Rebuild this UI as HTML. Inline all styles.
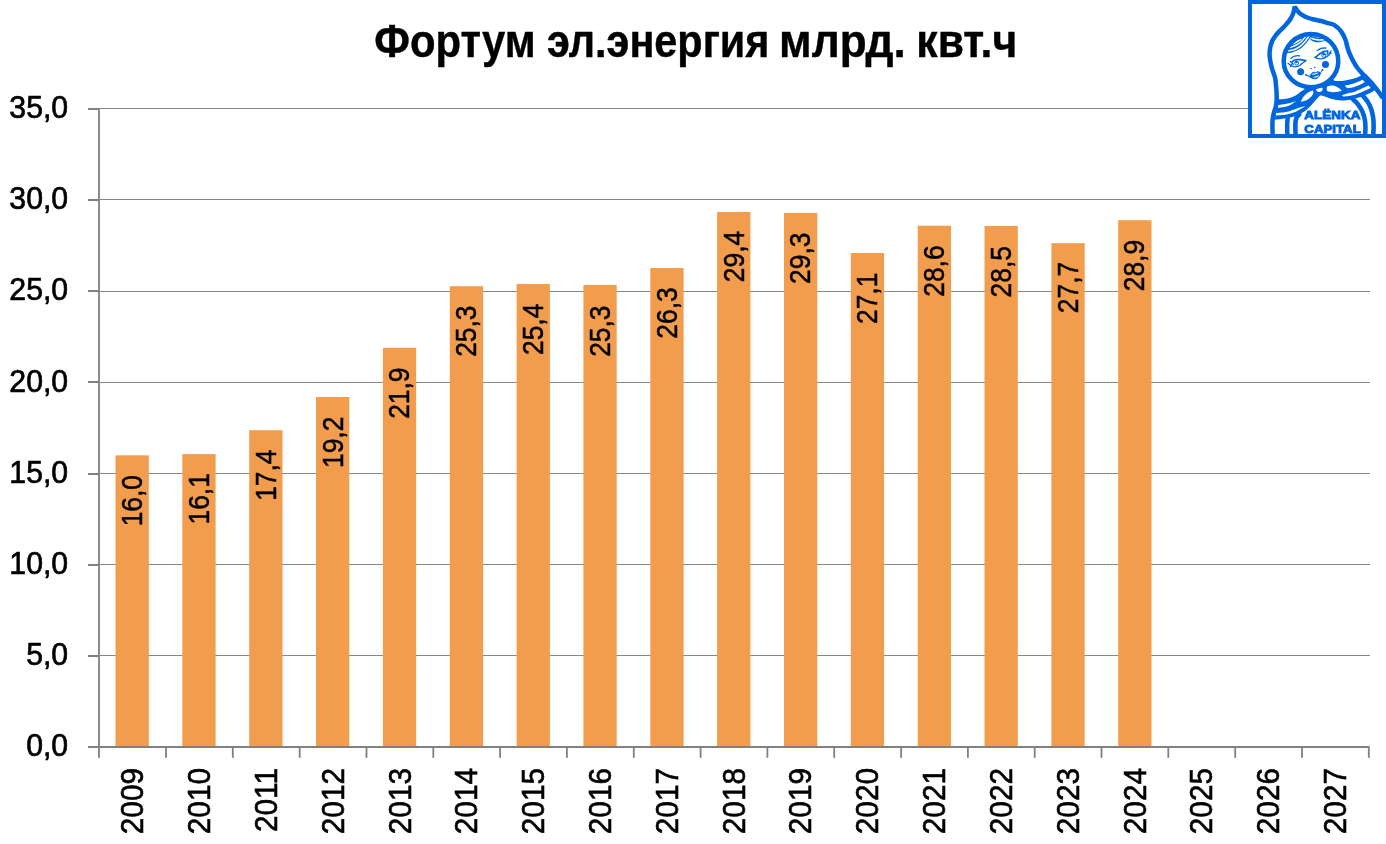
<!DOCTYPE html>
<html lang="ru"><head><meta charset="utf-8"><title>Фортум эл.энергия млрд. квт.ч</title>
<style>html,body{margin:0;padding:0;background:#fff;overflow:hidden}svg{display:block}text{font-family:"Liberation Sans", sans-serif;fill:#000}</style></head><body>
<svg width="1386" height="844" viewBox="0 0 1386 844">
<rect width="1386" height="844" fill="#fff"/>
<g fill="#878787" shape-rendering="crispEdges">
<rect x="100" y="655" width="1269.5" height="1"/>
<rect x="100" y="564" width="1269.5" height="1"/>
<rect x="100" y="473" width="1269.5" height="1"/>
<rect x="100" y="382" width="1269.5" height="1"/>
<rect x="100" y="291" width="1269.5" height="1"/>
<rect x="100" y="199" width="1269.5" height="1"/>
<rect x="100" y="108" width="1269.5" height="1"/>
</g>
<g fill="#F29D4D">
<rect x="115.5" y="455.3" width="33.3" height="290.7"/>
<rect x="182.3" y="454.1" width="33.3" height="291.9"/>
<rect x="249.2" y="430.2" width="33.3" height="315.8"/>
<rect x="316.0" y="397.0" width="33.3" height="349.0"/>
<rect x="382.9" y="347.8" width="33.3" height="398.2"/>
<rect x="449.8" y="286.2" width="33.3" height="459.8"/>
<rect x="516.6" y="284.0" width="33.3" height="462.0"/>
<rect x="583.4" y="284.9" width="33.3" height="461.1"/>
<rect x="650.3" y="268.0" width="33.3" height="478.0"/>
<rect x="717.1" y="212.0" width="33.3" height="534.0"/>
<rect x="784.0" y="212.9" width="33.3" height="533.1"/>
<rect x="850.8" y="253.0" width="33.3" height="493.0"/>
<rect x="917.7" y="225.7" width="33.3" height="520.3"/>
<rect x="984.5" y="226.0" width="33.3" height="520.0"/>
<rect x="1051.4" y="243.2" width="33.3" height="502.8"/>
<rect x="1118.2" y="220.2" width="33.3" height="525.8"/>
</g>
<g fill="#808080">
<rect x="98.1" y="108" width="1.8" height="649.8"/>
<rect x="88" y="746" width="1281.6" height="2"/>
<rect x="88" y="655" width="11" height="2"/>
<rect x="88" y="564" width="11" height="2"/>
<rect x="88" y="473" width="11" height="2"/>
<rect x="88" y="381" width="11" height="2"/>
<rect x="88" y="290" width="11" height="2"/>
<rect x="88" y="199" width="11" height="2"/>
<rect x="88" y="108" width="11" height="2"/>
<rect x="165.1" y="747" width="1.8" height="10.8"/>
<rect x="231.9" y="747" width="1.8" height="10.8"/>
<rect x="298.8" y="747" width="1.8" height="10.8"/>
<rect x="365.6" y="747" width="1.8" height="10.8"/>
<rect x="432.4" y="747" width="1.8" height="10.8"/>
<rect x="499.2" y="747" width="1.8" height="10.8"/>
<rect x="566.0" y="747" width="1.8" height="10.8"/>
<rect x="632.9" y="747" width="1.8" height="10.8"/>
<rect x="699.7" y="747" width="1.8" height="10.8"/>
<rect x="766.5" y="747" width="1.8" height="10.8"/>
<rect x="833.3" y="747" width="1.8" height="10.8"/>
<rect x="900.2" y="747" width="1.8" height="10.8"/>
<rect x="967.0" y="747" width="1.8" height="10.8"/>
<rect x="1033.8" y="747" width="1.8" height="10.8"/>
<rect x="1100.6" y="747" width="1.8" height="10.8"/>
<rect x="1167.4" y="747" width="1.8" height="10.8"/>
<rect x="1234.3" y="747" width="1.8" height="10.8"/>
<rect x="1301.1" y="747" width="1.8" height="10.8"/>
<rect x="1367.9" y="747" width="1.8" height="10.8"/>
</g>
<g font-size="32" text-anchor="end" stroke="#000" stroke-width="0.7">
<text transform="translate(68.2 756.1) scale(0.946 1)">0,0</text>
<text transform="translate(68.2 665.0) scale(0.946 1)">5,0</text>
<text transform="translate(68.2 573.8) scale(0.946 1)">10,0</text>
<text transform="translate(68.2 482.7) scale(0.946 1)">15,0</text>
<text transform="translate(68.2 391.5) scale(0.946 1)">20,0</text>
<text transform="translate(68.2 300.4) scale(0.946 1)">25,0</text>
<text transform="translate(68.2 209.2) scale(0.946 1)">30,0</text>
<text transform="translate(68.2 118.1) scale(0.946 1)">35,0</text>
</g>
<g font-size="32.1" text-anchor="end" stroke="#000" stroke-width="0.6">
<text transform="translate(143.2 768) rotate(-90) scale(0.927 1)">2009</text>
<text transform="translate(210.0 768) rotate(-90) scale(0.927 1)">2010</text>
<text transform="translate(276.9 768) rotate(-90) scale(0.927 1)">2011</text>
<text transform="translate(343.7 768) rotate(-90) scale(0.927 1)">2012</text>
<text transform="translate(410.5 768) rotate(-90) scale(0.927 1)">2013</text>
<text transform="translate(477.3 768) rotate(-90) scale(0.927 1)">2014</text>
<text transform="translate(544.1 768) rotate(-90) scale(0.927 1)">2015</text>
<text transform="translate(611.0 768) rotate(-90) scale(0.927 1)">2016</text>
<text transform="translate(677.8 768) rotate(-90) scale(0.927 1)">2017</text>
<text transform="translate(744.6 768) rotate(-90) scale(0.927 1)">2018</text>
<text transform="translate(811.4 768) rotate(-90) scale(0.927 1)">2019</text>
<text transform="translate(878.2 768) rotate(-90) scale(0.927 1)">2020</text>
<text transform="translate(945.1 768) rotate(-90) scale(0.927 1)">2021</text>
<text transform="translate(1011.9 768) rotate(-90) scale(0.927 1)">2022</text>
<text transform="translate(1078.7 768) rotate(-90) scale(0.927 1)">2023</text>
<text transform="translate(1145.5 768) rotate(-90) scale(0.927 1)">2024</text>
<text transform="translate(1212.3 768) rotate(-90) scale(0.927 1)">2025</text>
<text transform="translate(1279.2 768) rotate(-90) scale(0.927 1)">2026</text>
<text transform="translate(1346.0 768) rotate(-90) scale(0.927 1)">2027</text>
</g>
<g font-size="28.9" text-anchor="end" stroke="#000" stroke-width="0.5">
<text transform="translate(142.1 475.0) rotate(-90) scale(0.913 1)">16,0</text>
<text transform="translate(208.9 473.2) rotate(-90) scale(0.913 1)">16,1</text>
<text transform="translate(275.8 449.5) rotate(-90) scale(0.913 1)">17,4</text>
<text transform="translate(342.6 416.7) rotate(-90) scale(0.913 1)">19,2</text>
<text transform="translate(409.4 367.5) rotate(-90) scale(0.913 1)">21,9</text>
<text transform="translate(476.2 305.5) rotate(-90) scale(0.913 1)">25,3</text>
<text transform="translate(543.0 303.7) rotate(-90) scale(0.913 1)">25,4</text>
<text transform="translate(609.9 305.5) rotate(-90) scale(0.913 1)">25,3</text>
<text transform="translate(676.7 287.3) rotate(-90) scale(0.913 1)">26,3</text>
<text transform="translate(743.5 230.8) rotate(-90) scale(0.913 1)">29,4</text>
<text transform="translate(810.3 232.6) rotate(-90) scale(0.913 1)">29,3</text>
<text transform="translate(877.1 272.7) rotate(-90) scale(0.913 1)">27,1</text>
<text transform="translate(944.0 245.4) rotate(-90) scale(0.913 1)">28,6</text>
<text transform="translate(1010.8 246.1) rotate(-90) scale(0.913 1)">28,5</text>
<text transform="translate(1077.6 261.8) rotate(-90) scale(0.913 1)">27,7</text>
<text transform="translate(1144.4 239.9) rotate(-90) scale(0.913 1)">28,9</text>
</g>
<text y="56.6" font-size="45.5" font-weight="bold" stroke="#000" stroke-width="0.4"><tspan x="374.3" textLength="161.3" lengthAdjust="spacingAndGlyphs">Фортум</tspan> <tspan x="547.0" textLength="222.4" lengthAdjust="spacingAndGlyphs">эл.энергия</tspan> <tspan x="779.1" textLength="126.7" lengthAdjust="spacingAndGlyphs">млрд.</tspan> <tspan x="916.3" textLength="100.9" lengthAdjust="spacingAndGlyphs">квт.ч</tspan></text>
<g transform="translate(1248 0)">
<rect x="0" y="0" width="138" height="138" fill="#fff"/>
<path fill="#0066DD" d="M28.53 99.33C29.48 99.30 32.09 99.39 34.22 99.18C36.35 98.98 38.96 98.83 41.33 98.12C43.70 97.41 46.30 96.14 48.44 94.92C50.57 93.70 52.23 92.08 54.12 90.80C56.02 89.52 57.80 88.19 59.81 87.24C61.82 86.29 65.14 85.46 66.21 85.11L72.61 94.71C72.01 95.36 70.47 97.02 69.05 98.62C67.63 100.22 66.09 102.23 64.08 104.30C62.06 106.38 59.57 109.16 56.97 111.06C54.36 112.95 51.64 114.47 48.44 115.68C45.24 116.89 41.56 117.60 37.77 118.31C33.98 119.02 27.70 119.67 25.69 119.94Z"/>
<path fill="#0066DD" d="M82.27 79.81C82.68 80.01 82.50 80.88 84.75 81.02C87.00 81.16 92.40 81.04 95.77 80.66C99.15 80.28 102.47 79.45 105.01 78.74C107.56 78.03 109.16 77.29 111.06 76.40C112.95 75.51 115.50 73.91 116.39 73.41L129.18 88.31C128.47 88.84 127.05 90.31 124.92 91.51C122.79 92.70 119.47 94.28 116.39 95.49C113.31 96.70 109.87 97.93 106.44 98.76C103.00 99.59 99.33 100.39 95.77 100.46C92.22 100.54 88.07 99.78 85.11 99.18C82.15 98.59 80.61 97.72 78.00 96.91C75.39 96.10 70.89 94.78 69.47 94.35Z"/>
<path fill="#0066DD" d="M70.00 86.60 L76.00 84.60 L82.00 80.60 L84.50 78.50 L86.30 80.50 L86.00 84.00 L78.00 90.00 L70.00 91.00Z"/>
<ellipse cx="71.32" cy="89.91" rx="6.6" ry="5.6" fill="#0066DD"/>
<path fill="#fff" d="M29.81 105.01C31.14 104.84 35.50 104.36 37.77 103.95C40.05 103.53 41.72 103.04 43.46 102.53C45.20 102.02 47.43 101.16 48.22 100.89L48.22 101.10C47.55 101.58 45.79 103.06 44.17 103.95C42.55 104.84 40.88 105.78 38.48 106.44C36.09 107.09 31.26 107.62 29.81 107.86Z"/>
<path fill="#fff" d="M27.68 113.19C29.36 113.01 34.31 112.87 37.77 112.12C41.23 111.38 45.21 109.72 48.44 108.71C51.66 107.70 55.66 106.52 57.11 106.08L57.11 106.29C55.66 107.15 51.54 110.03 48.44 111.41C45.33 112.80 41.94 113.90 38.48 114.61C35.02 115.32 29.48 115.50 27.68 115.68Z"/>
<path fill="#fff" d="M52.83 101.42C53.33 100.57 54.61 97.81 55.82 96.30C57.03 94.80 58.57 93.36 60.09 92.39C61.60 91.42 64.11 90.79 64.92 90.47L65.56 92.61C65.24 93.22 64.79 95.04 63.64 96.30C62.49 97.57 60.44 99.31 58.66 100.21C56.89 101.11 53.92 101.46 52.98 101.71Z"/>
<path fill="#fff" d="M78.71 88.63C78.86 88.22 78.59 86.74 79.64 86.21C80.68 85.68 83.25 85.23 84.97 85.43C86.68 85.63 88.43 86.53 89.94 87.42C91.46 88.31 93.38 90.20 94.07 90.76L94.07 90.83C93.38 90.98 91.46 91.53 89.94 91.75C88.43 91.98 86.68 92.25 84.97 92.18C83.25 92.11 80.68 91.92 79.64 91.33C78.59 90.73 78.86 89.08 78.71 88.63Z"/>
<path fill="#fff" d="M96.63 85.64C97.43 85.47 99.82 85.04 101.46 84.64C103.09 84.25 104.24 84.10 106.44 83.29C108.63 82.49 113.25 80.39 114.61 79.81L116.89 82.16C115.38 82.87 110.78 85.41 107.86 86.42C104.93 87.43 100.75 87.90 99.33 88.20Z"/>
<path fill="#fff" d="M93.78 95.38C94.71 95.06 97.22 94.05 99.33 93.46C101.44 92.87 102.88 93.14 106.44 91.82C109.99 90.51 118.28 86.61 120.65 85.57L122.79 87.99C120.30 89.05 112.42 92.97 107.86 94.38C103.30 95.79 97.49 96.10 95.42 96.45Z"/>
<path fill="#fff" d="M68.12 88.63C68.53 88.03 70.39 87.89 71.46 87.77C72.53 87.65 74.07 87.44 74.52 87.91C74.97 88.39 74.61 89.93 74.16 90.62C73.71 91.30 72.68 91.92 71.82 92.04C70.95 92.16 69.59 91.90 68.97 91.33C68.36 90.76 67.70 89.22 68.12 88.63Z"/>
<path fill="none" stroke="#0066DD" stroke-width="4.5" stroke-linejoin="bevel" stroke-linecap="butt" d="M24.62 134.87C24.59 133.09 24.37 127.05 24.41 124.21C24.44 121.36 24.56 119.82 24.83 117.81C25.11 115.80 25.55 114.02 26.04 112.12C26.54 110.23 27.38 108.57 27.82 106.44C28.26 104.30 28.55 101.70 28.67 99.33C28.79 96.96 28.65 94.59 28.53 92.22C28.41 89.85 28.20 87.48 27.96 85.11C27.73 82.74 27.82 80.93 27.11 78.00C26.40 75.07 24.60 71.02 23.70 67.50C22.80 63.98 22.01 59.83 21.71 56.87C21.40 53.92 21.54 52.13 21.85 49.76C22.16 47.39 22.68 44.91 23.55 42.65C24.43 40.40 25.69 38.27 27.11 36.26C28.53 34.24 30.31 32.46 32.09 30.57C33.86 28.67 36.00 26.90 37.77 24.88C39.55 22.87 41.45 20.62 42.75 18.48C44.05 16.35 44.95 14.04 45.59 12.09C46.23 10.13 46.42 7.64 46.59 6.75L49.86 11.37C50.57 11.97 52.46 13.86 54.12 14.93C55.78 16.00 57.80 17.00 59.81 17.77C61.82 18.54 63.96 19.02 66.21 19.55C68.46 20.08 71.02 20.38 73.32 20.97C75.62 21.56 77.82 22.42 80.00 23.10C82.18 23.79 84.22 23.73 86.40 25.10C88.58 26.47 91.24 28.82 93.10 31.30C94.96 33.78 96.51 37.37 97.55 40.00C98.59 42.63 98.62 44.74 99.33 47.11C100.04 49.48 100.81 51.85 101.82 54.22C102.82 56.59 104.13 59.08 105.37 61.33C106.61 63.58 107.80 65.71 109.28 67.73C110.76 69.74 112.48 71.52 114.26 73.41C116.03 75.31 118.05 77.09 119.94 79.10C121.84 81.11 123.85 83.36 125.63 85.50C127.41 87.63 129.07 89.82 130.61 91.90C132.15 93.97 134.16 96.93 134.87 97.94"/>
<path fill="#0066DD" d="M37.35 51.86 L38.68 48.81 L40.37 45.93 L42.40 43.29 L44.73 40.91 L47.34 38.84 L50.18 37.10 L53.22 35.71 L56.40 34.71 L59.67 34.10 L63.00 33.90L63.28 35.96C62.98 36.41 62.33 37.50 61.50 38.66C60.67 39.82 59.55 41.47 58.30 42.93C57.06 44.39 55.58 46.14 54.04 47.41C52.50 48.68 50.72 49.71 49.06 50.54C47.40 51.36 45.74 51.97 44.09 52.38C42.43 52.80 39.94 52.92 39.11 53.02Z"/>
<path fill="#0066DD" d="M63.00 33.90 L64.71 33.95 L66.42 34.12 L68.12 34.38 L69.79 34.76 L71.44 35.24 L73.05 35.82 L74.62 36.50 L76.15 37.28 L77.63 38.15 L79.05 39.11L78.21 40.09C77.62 40.32 75.96 41.15 74.65 41.51C73.35 41.86 71.81 42.19 70.39 42.22C68.97 42.24 67.45 42.00 66.12 41.65C64.80 41.29 63.04 40.35 62.43 40.09Z"/>
<path fill="none" stroke="#fff" stroke-width="1.50" stroke-linecap="butt" d="M38.75 51.10C39.64 50.95 42.43 50.62 44.09 50.18C45.74 49.74 47.17 49.27 48.71 48.47C50.25 47.68 51.91 46.64 53.33 45.42C54.75 44.20 56.11 42.51 57.24 41.15C58.36 39.79 59.37 38.31 60.08 37.24C60.79 36.18 61.27 35.17 61.50 34.75"/>
<path fill="none" stroke="#fff" stroke-width="1.40" stroke-linecap="butt" d="M41.24 47.55C41.95 47.35 44.09 46.90 45.51 46.34C46.93 45.78 48.41 45.07 49.77 44.21C51.14 43.34 52.56 42.19 53.68 41.15C54.81 40.11 55.76 38.96 56.53 37.95C57.30 36.95 58.01 35.58 58.30 35.11"/>
<path fill="#fff" d="M44.23 44.64C44.74 44.18 46.24 42.75 47.28 41.93C48.33 41.12 49.38 40.32 50.48 39.73C51.59 39.14 53.33 38.60 53.90 38.38L54.04 38.66C53.68 39.00 52.85 39.92 51.91 40.65C50.96 41.39 49.59 42.36 48.35 43.07C47.11 43.78 45.09 44.61 44.44 44.92Z"/>
<path fill="none" stroke="#fff" stroke-width="1.50" stroke-linecap="butt" d="M63.28 38.17C63.99 38.40 66.12 39.27 67.55 39.59C68.97 39.91 70.45 40.09 71.81 40.09C73.17 40.09 74.54 39.88 75.72 39.59C76.91 39.29 78.39 38.52 78.92 38.31"/>
<path fill="none" stroke="#fff" stroke-width="0.80" stroke-linecap="butt" d="M64.35 35.96C65.12 36.15 67.49 36.86 68.97 37.10C70.45 37.34 71.93 37.42 73.23 37.38C74.54 37.35 76.19 36.97 76.79 36.89"/>
<path d="M35.7 61.2A27.3 27.3 0 0 1 90.3 61.2A27.3 26 0 0 1 35.7 61.2Z" fill="none" stroke="#0066DD" stroke-width="4.5"/>
<path fill="none" stroke="#0066DD" stroke-width="4.60" stroke-linecap="round" stroke-linejoin="round"  d="M105.01 99.33C105.84 100.16 108.45 102.29 109.99 104.30C111.53 106.32 113.13 108.92 114.26 111.41C115.38 113.90 116.21 116.63 116.74 119.23C117.28 121.84 117.40 124.45 117.45 127.05C117.51 129.66 117.16 133.57 117.10 134.87"/>
<path fill="none" stroke="#0066DD" stroke-width="4.60" stroke-linecap="round" stroke-linejoin="round"  d="M114.97 95.77C115.80 96.84 118.52 99.80 119.94 102.17C121.36 104.54 122.61 107.27 123.50 109.99C124.39 112.72 124.92 115.68 125.27 118.52C125.63 121.36 125.63 124.33 125.63 127.05C125.63 129.78 125.33 133.57 125.27 134.87"/>
<path fill="none" stroke="#0066DD" stroke-width="4.50" stroke-linecap="round" stroke-linejoin="round"  d="M39.76 117.45C39.67 118.58 39.27 121.31 39.19 124.21C39.12 127.11 39.31 133.09 39.34 134.87"/>
<path fill="none" stroke="#0066DD" stroke-width="4.60" stroke-linecap="round" stroke-linejoin="round"  d="M51.28 114.26C50.81 114.85 49.09 116.27 48.44 117.81C47.78 119.35 47.51 120.65 47.37 123.50C47.23 126.34 47.55 132.98 47.58 134.87"/>
<circle cx="77.5" cy="64.6" r="3.5" fill="#0066DD"/>
<circle cx="52.6" cy="71.7" r="3.5" fill="#0066DD"/>
<path fill="none" stroke="#0066DD" stroke-width="1.35" stroke-linecap="round" stroke-linejoin="round"  d="M43.01 58.37C43.30 58.14 44.11 57.36 44.74 56.98C45.36 56.61 45.99 56.34 46.76 56.12C47.53 55.90 48.54 55.69 49.36 55.66C50.17 55.62 51.28 55.87 51.67 55.92"/>
<path fill="none" stroke="#0066DD" stroke-width="1.35" stroke-linecap="round" stroke-linejoin="round"  d="M69.24 50.53C69.62 50.29 70.68 49.49 71.54 49.09C72.41 48.69 73.37 48.32 74.43 48.14C75.49 47.96 77.32 48.02 77.89 47.99"/>
<path fill="none" stroke="#0066DD" stroke-width="1.70" stroke-linecap="round" stroke-linejoin="round"  d="M44.02 62.12C44.33 61.79 45.10 60.56 45.89 60.16C46.69 59.75 47.67 59.77 48.78 59.70C49.89 59.62 51.04 59.55 52.53 59.70C54.02 59.84 56.86 60.42 57.73 60.56"/>
<path fill="none" stroke="#0066DD" stroke-width="1.30" stroke-linecap="round" stroke-linejoin="round"  d="M43.01 65.73C43.49 65.89 44.93 66.52 45.89 66.68C46.86 66.84 47.82 66.87 48.78 66.68C49.74 66.49 50.80 66.04 51.67 65.53C52.53 65.02 53.23 64.21 53.97 63.62C54.72 63.03 55.51 62.49 56.14 61.98C56.76 61.47 57.46 60.80 57.73 60.56"/>
<circle cx="48.63" cy="63.13" r="1.95" fill="none" stroke="#0066DD" stroke-width="1.0"/>
<circle cx="48.35" cy="62.12" r="1.25" fill="#0066DD"/>
<path fill="none" stroke="#0066DD" stroke-width="1.20" stroke-linecap="round" stroke-linejoin="round"  d="M39.98 63.33C40.24 63.52 41.04 64.08 41.56 64.43C42.09 64.78 42.89 65.27 43.15 65.44"/>
<path fill="none" stroke="#0066DD" stroke-width="1.20" stroke-linecap="round" stroke-linejoin="round"  d="M42.14 61.31C42.41 61.54 43.20 62.20 43.73 62.70C44.26 63.19 45.05 64.02 45.32 64.29"/>
<path fill="none" stroke="#0066DD" stroke-width="1.10" stroke-linecap="round" stroke-linejoin="round"  d="M42.37 66.80C42.50 66.55 42.85 65.83 43.15 65.30C43.45 64.76 43.99 63.85 44.16 63.56"/>
<path fill="none" stroke="#0066DD" stroke-width="1.70" stroke-linecap="round" stroke-linejoin="round"  d="M67.22 57.37C67.70 56.99 69.14 55.79 70.10 55.06C71.06 54.34 72.03 53.62 72.99 53.04C73.95 52.47 74.86 51.91 75.87 51.60C76.88 51.29 78.52 51.27 79.05 51.20"/>
<path fill="none" stroke="#0066DD" stroke-width="1.30" stroke-linecap="round" stroke-linejoin="round"  d="M67.22 57.37C67.60 57.56 68.56 58.23 69.52 58.47C70.49 58.71 71.88 58.86 72.99 58.82C74.09 58.78 75.15 58.62 76.16 58.24C77.17 57.85 78.18 57.13 79.05 56.51C79.91 55.88 80.73 55.11 81.36 54.49C81.98 53.86 82.56 53.04 82.80 52.76"/>
<circle cx="75.73" cy="55.35" r="1.95" fill="none" stroke="#0066DD" stroke-width="1.0"/>
<circle cx="75.73" cy="54.37" r="1.25" fill="#0066DD"/>
<path fill="none" stroke="#0066DD" stroke-width="1.20" stroke-linecap="round" stroke-linejoin="round"  d="M79.05 54.57C79.12 54.21 79.34 53.10 79.48 52.41C79.62 51.72 79.84 50.77 79.91 50.45"/>
<path fill="none" stroke="#0066DD" stroke-width="1.20" stroke-linecap="round" stroke-linejoin="round"  d="M81.36 54.20C81.50 53.90 81.93 52.99 82.22 52.41C82.51 51.83 82.94 51.01 83.09 50.74"/>
<path fill="none" stroke="#0066DD" stroke-width="1.10" stroke-linecap="round" stroke-linejoin="round"  d="M79.91 52.70C80.18 52.76 80.97 52.94 81.50 53.04C82.03 53.15 82.82 53.29 83.09 53.33"/>
<path fill="none" stroke="#0066DD" stroke-width="1.10" stroke-linecap="round" stroke-linejoin="round"  d="M75.93 51.60C75.97 51.47 76.12 50.95 76.16 50.82"/>
<ellipse cx="63.08" cy="68.53" rx="0.95" ry="0.60" fill="#0066DD"/>
<ellipse cx="66.78" cy="67.45" rx="0.80" ry="0.65" fill="#0066DD"/>
<path fill="#0066DD" d="M61.37 76.64C61.52 76.33 61.85 75.40 62.23 74.79C62.61 74.17 63.03 73.44 63.65 72.94C64.27 72.44 65.31 71.87 65.92 71.80C66.54 71.73 66.78 72.61 67.35 72.51C67.91 72.42 68.63 71.35 69.34 71.23C70.05 71.11 71.02 71.47 71.61 71.80C72.20 72.13 72.68 72.99 72.89 73.22L72.89 73.22C72.70 73.70 72.35 75.20 71.75 76.07C71.16 76.93 70.21 77.89 69.34 78.43C68.46 78.96 67.44 79.27 66.49 79.28C65.55 79.29 64.50 78.92 63.65 78.48C62.80 78.04 61.75 76.94 61.37 76.64Z"/>
<path fill="#fff" d="M63.65 74.84 L65.07 73.42 L67.06 73.59 L69.62 72.57 L70.53 73.31 L67.06 74.56Z"/>
<path fill="#fff" d="M64.45 77.12 L67.63 76.49 L71.10 75.07 L69.96 76.83 L67.06 77.86Z"/>
<path fill="none" stroke="#0066DD" stroke-width="1.10" stroke-linecap="round" stroke-linejoin="round"  d="M57.96 74.93C58.25 75.04 59.05 75.27 59.67 75.58C60.28 75.89 61.33 76.58 61.66 76.78"/>
<path fill="none" stroke="#0066DD" stroke-width="1.00" stroke-linecap="round" stroke-linejoin="round"  d="M72.75 73.14C72.89 72.81 73.32 71.67 73.60 71.15C73.89 70.63 74.31 70.20 74.45 70.01"/>
<circle cx="57.96" cy="74.93" r="0.9" fill="#0066DD"/>
<circle cx="74.51" cy="69.95" r="1.0" fill="#0066DD"/>
<g font-family="&quot;Liberation Sans&quot;, sans-serif" font-weight="bold" font-size="10.5" fill="#0066DD" stroke="#0066DD" stroke-width="0.8" stroke-linejoin="miter">
<text x="56.3" y="119.35" textLength="56.1" lengthAdjust="spacingAndGlyphs" style="fill:#0066DD">ALËNKA</text>
<text x="56.3" y="132.6" textLength="56.5" lengthAdjust="spacingAndGlyphs" style="fill:#0066DD">CAPITAL</text>
</g>
<rect x="2" y="2" width="134" height="134" fill="none" stroke="#0066DD" stroke-width="4"/>
</g>
</svg></body></html>
